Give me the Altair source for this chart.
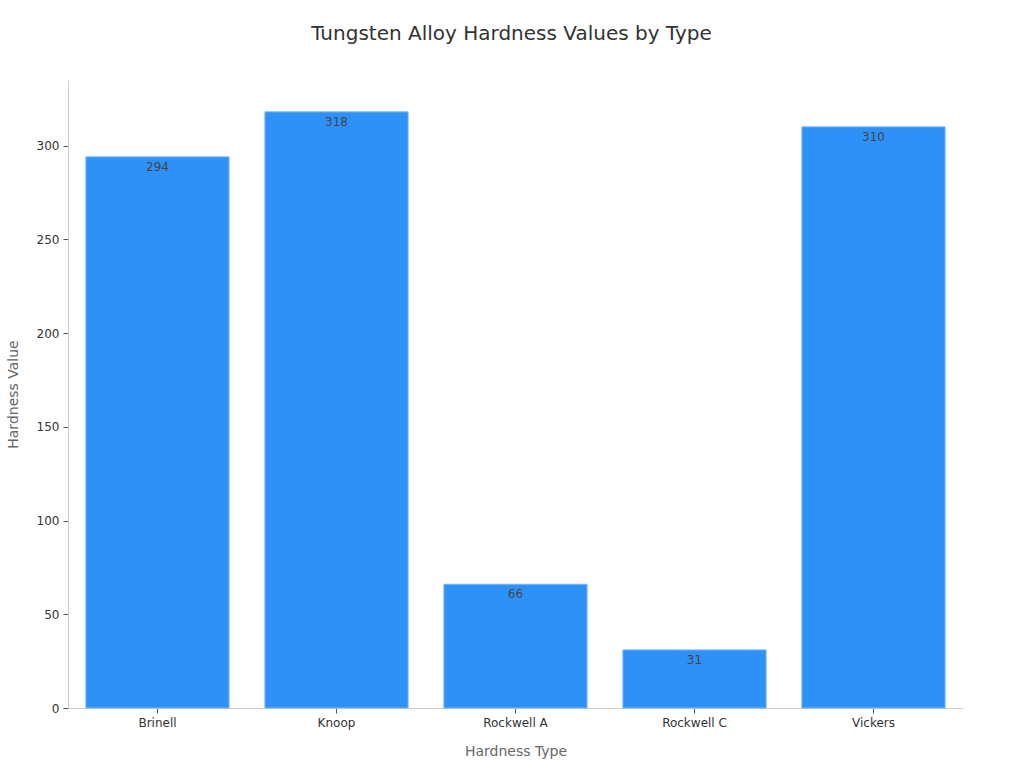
import altair as alt
import pandas as pd

categories = ["Brinell", "Knoop", "Rockwell A", "Rockwell C", "Vickers"]
values = [294, 318, 66, 31, 310]

df = pd.DataFrame({"type": categories, "value": values})

FONT = "DejaVu Sans"

base = alt.Chart(df).encode(
    x=alt.X(
        "type:N",
        sort=categories,
        title="Hardness Type",
        scale=alt.Scale(paddingInner=0.2, paddingOuter=0.1),
        axis=alt.Axis(
            labelAngle=0, labelFont=FONT, labelFontSize=12, labelColor="#333333",
            titleFont=FONT, titleFontSize=14, titleColor="#666666", titleFontWeight="normal",
            titlePadding=16, domainColor="#cccccc", tickColor="#555555", tickSize=5,
            labelPadding=4,
        ),
    ),
    y=alt.Y(
        "value:Q",
        title="Hardness Value",
        scale=alt.Scale(domain=[0, 335], nice=False),
        axis=alt.Axis(
            values=[0, 50, 100, 150, 200, 250, 300], grid=False,
            labelFont=FONT, labelFontSize=12, labelColor="#333333",
            titleFont=FONT, titleFontSize=14, titleColor="#666666", titleFontWeight="normal",
            titlePadding=16, domainColor="#cccccc", tickColor="#555555", tickSize=5,
            labelPadding=4,
        ),
    ),
)

bars = base.mark_bar(color="#2E91F8", stroke="#7AB8FA", strokeWidth=1)
labels = base.mark_text(
    baseline="top", dy=5, font=FONT, fontSize=12, color="#444444"
).encode(text="value:Q")

chart = (
    (bars + labels)
    .properties(
        width=895,
        height=628,
        background="white",
        title=alt.TitleParams(
            "Tungsten Alloy Hardness Values by Type",
            font=FONT, fontSize=20, fontWeight="normal", color="#333333",
            anchor="middle", offset=36, dx=-4,
        ),
        autosize=alt.AutoSizeParams(type="none"),
        padding={"left": 68, "top": 80, "right": 61, "bottom": 60},
    )
    .configure_view(strokeWidth=0, stroke=None)
)

chart.save("out.html", embed_options={"renderer": "svg", "actions": False})
